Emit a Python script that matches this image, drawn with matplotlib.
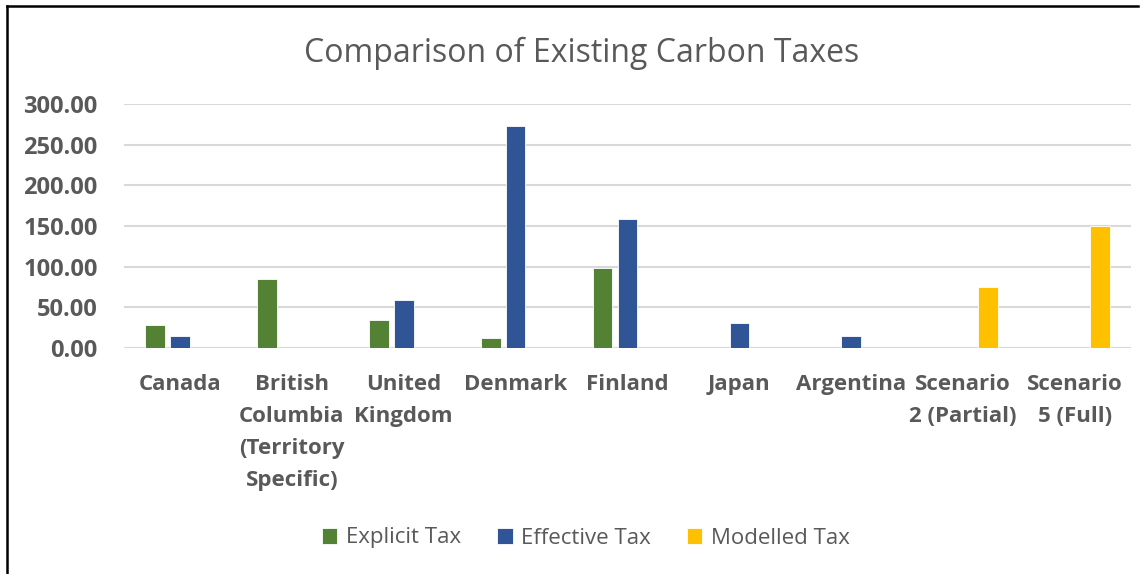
import matplotlib
matplotlib.use("Agg")
import matplotlib.pyplot as plt
import numpy as np

categories = ["Canada", "British\nColumbia\n(Territory\nSpecific)", "United\nKingdom", "Denmark",
              "Finland", "Japan", "Argentina", "Scenario\n2 (Partial)", "Scenario\n5 (Full)"]
explicit_tax = [28, 85, 34, 12.5, 98.5, 0, 0, 0, 0]
effective_tax = [15, 0, 59, 273, 158, 31, 15, 0, 0]
modelled_tax = [0, 0, 0, 0, 0, 0, 0, 75, 150]
series_names = ["Explicit Tax", "Effective Tax", "Modelled Tax"]
yticks = [0, 50, 100, 150, 200, 250, 300]

colors = ["#548235", "#2F5597", "#FFC000"]
text_col = "#595959"
font = "Open Sans"

fig = plt.figure(figsize=(11.47, 5.74), dpi=100)
ax = fig.add_axes([124/1147, 1-348/574, (1131-124)/1147, (348-104)/574])

x = np.arange(len(categories))
w = 0.175
off = 0.222
for i, (vals, name) in enumerate(zip([explicit_tax, effective_tax, modelled_tax], series_names)):
    ax.bar(x + (i-1)*off, vals, width=w, color=colors[i], edgecolor="white",
           linewidth=0.6, label=name, zorder=3)

ax.set_xlim(-0.5, len(categories)-0.5)
ax.set_ylim(0, 300)
ax.set_yticks(yticks)
ax.set_yticklabels([f"{v:.2f}" for v in yticks], fontfamily=font, fontweight="bold",
                   fontsize=17, color=text_col)
ax.set_xticks(x)
ax.set_xticklabels(categories, fontfamily=font, fontweight="bold", fontsize=16,
                   color=text_col, linespacing=1.68, va="top")
ax.tick_params(axis="both", length=0)
ax.tick_params(axis="x", pad=19)
ax.tick_params(axis="y", pad=19)
ax.grid(axis="y", color="#d9d9d9", linewidth=1.5, zorder=0)
for s in ax.spines.values():
    s.set_visible(False)
ax.axhline(0, color="#d9d9d9", linewidth=1.5, zorder=2)

fig.text(582/1147, 1-53/574, "Comparison of Existing Carbon Taxes", ha="center", va="center",
         fontfamily=font, fontsize=23, color=text_col)

leg = fig.legend(loc="center", bbox_to_anchor=(586/1147, 1-538/574), ncol=3, frameon=False,
                 prop={"family": font, "size": 16}, handlelength=0.7, handleheight=0.7,
                 columnspacing=1.6, handletextpad=0.4)
for t in leg.get_texts():
    t.set_color(text_col)

# frame lines (left and top)
fig.add_artist(plt.Line2D([6.5/1147, 6.5/1147], [0, 1-5.5/574], color="black", linewidth=1.8,
                          transform=fig.transFigure))
fig.add_artist(plt.Line2D([6.5/1147, 1138/1147], [1-5.5/574, 1-5.5/574], color="black",
                          linewidth=1.8, transform=fig.transFigure))

fig.savefig("out.png", dpi=100)
